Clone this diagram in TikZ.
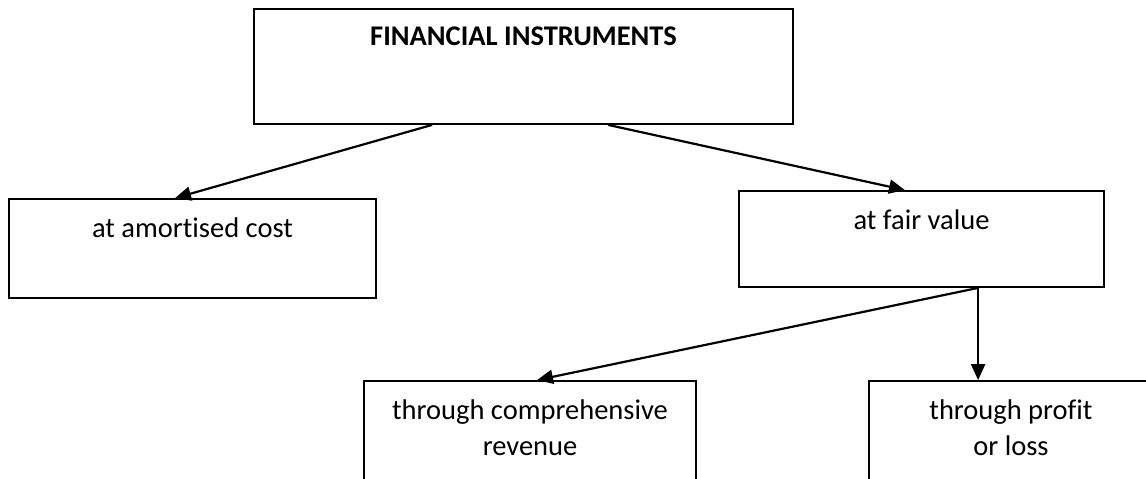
\documentclass[tikz,border=0pt]{standalone}
\usepackage{fontspec}
\setmainfont{Carlito}[Ligatures=NoCommon]
\usetikzlibrary{arrows.meta,calc}
\begin{document}
\begin{tikzpicture}[x=1pt,y=-1pt,
  box/.style={draw,line width=1.8pt,inner sep=0pt,rectangle},
  lbl/.style={anchor=base,inner sep=0pt,font=\fontsize{28.5}{34}\selectfont},
  conn/.style={line width=2.2pt,-{Triangle[length=16pt,width=14pt]}}]
  \useasboundingbox (0,0) rectangle (1146,479);
  \clip (0,0) rectangle (1146,479);
  % boxes
  \node[box,minimum width=539pt,minimum height=115pt] (fi) at (523.5,66.5) {};
  \node[box,minimum width=367pt,minimum height=99pt] (amort) at (192.5,248.5) {};
  \node[box,minimum width=365pt,minimum height=96pt] (fair) at (921.5,239) {};
  \node[box,minimum width=332pt,minimum height=139pt] (comp) at (530,450.5) {};
  \node[box,minimum width=284pt,minimum height=139pt] (profit) at (1011,450.5) {};
  % texts
  \node[lbl,font=\fontsize{28.5}{34}\selectfont\bfseries] (t1) at (523.5,45) {FINANCIAL INSTRUMENTS};
  \node[lbl] (t2) at (192.5,237) {at amortised cost};
  \node[lbl] (t3) at (921.5,229) {at fair value};
  \node[lbl] (t4) at (530,419) {through comprehensive};
  \node[lbl] (t5) at (530,455) {revenue};
  \node[lbl] (t6) at (1011,419) {through profit};
  \node[lbl] (t7) at (1011,455) {or loss};
  % connectors
  \coordinate (fork) at ($(fair.south west)+(240,0)$);
  \draw[conn] ($(fi.south west)+(179,0)$) -- ($(amort.north)+(-17.5,0)$);
  \draw[conn] ($(fi.south west)+(355,0)$) -- ($(fair.north)+(-16.5,0)$);
  \draw[conn] (fork) -- ($(comp.north)+(7,0)$);
  \draw[conn] (fork) -- (fork |- profit.north);
\end{tikzpicture}
\end{document}
